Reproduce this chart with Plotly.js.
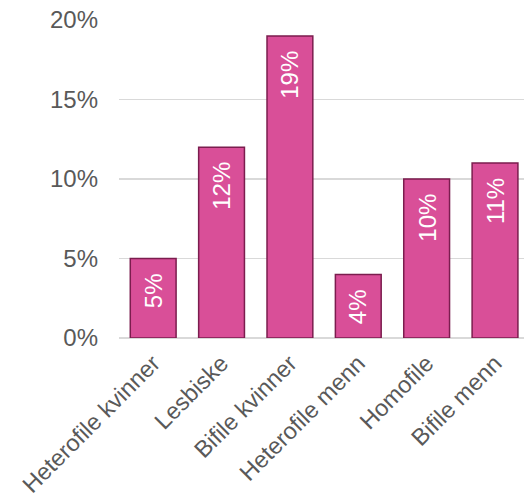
<!DOCTYPE html>
<html>
<head>
<meta charset="utf-8">
<script src="https://cdn.plot.ly/plotly-3.0.1.min.js"></script>
<style>html,body{margin:0;padding:0;background:#fff;}#chart{width:524px;height:499px;}</style>
</head>
<body>
<div id="chart"></div>
<script>
const categories = ["Heterofile kvinner", "Lesbiske", "Bifile kvinner", "Heterofile menn", "Homofile", "Bifile menn"];
const values = [0.05, 0.12, 0.19, 0.04, 0.10, 0.11];
const valueLabels = ["5%", "12%", "19%", "4%", "10%", "11%"];
const yTickVals = [0, 0.05, 0.10, 0.15, 0.20];
const yTickText = ["0%", "5%", "10%", "15%", "20%"];

const FONT = "Liberation Sans, Arial, sans-serif";

const trace = {
  type: "bar",
  x: categories,
  y: values,
  width: 0.67,
  marker: { color: "#d94f98", line: { color: "#7b1d4e", width: 1.5 } },
  hoverinfo: "none"
};

const annotations = categories.map((c, i) => ({
  x: c, y: values[i], xref: "x", yref: "y",
  text: valueLabels[i], showarrow: false, textangle: -90,
  xanchor: "center", yanchor: "top", yshift: -13,
  font: { family: FONT, size: 24, color: "#ffffff" }
}));

const layout = {
  width: 524, height: 499,
  margin: { l: 119, r: 0, t: 20, b: 161 },
  paper_bgcolor: "#ffffff", plot_bgcolor: "#ffffff",
  showlegend: false,
  bargap: 0.33,
  xaxis: {
    type: "category",
    range: [-0.5, 5.424],
    tickangle: -45,
    tickfont: { family: FONT, size: 23.5, color: "#595959" },
    showgrid: false, zeroline: false, showline: false,
    ticks: "", ticklabelstandoff: 6
  },
  yaxis: {
    range: [0, 0.2],
    tickvals: yTickVals, ticktext: yTickText,
    tickfont: { family: FONT, size: 24, color: "#595959" },
    showgrid: true, gridcolor: "#d9d9d9", gridwidth: 1.5,
    zeroline: true, zerolinecolor: "#d9d9d9", zerolinewidth: 1.5,
    showline: false, ticks: "", ticklabelstandoff: 20
  },
  annotations: annotations
};

Plotly.newPlot("chart", [trace], layout, { displayModeBar: false, staticPlot: true });
</script>
</body>
</html>
